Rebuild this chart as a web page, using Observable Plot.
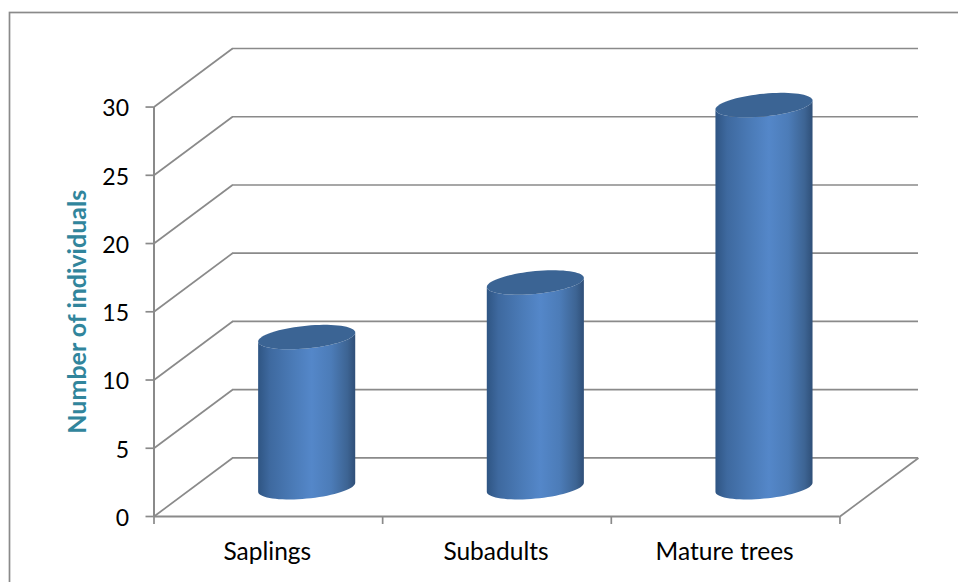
<!DOCTYPE html>
<html>
<head>
<meta charset="utf-8">
<script src="https://cdn.jsdelivr.net/npm/d3@7"></script>
<script src="https://cdn.jsdelivr.net/npm/@observablehq/plot@0.6"></script>
<style>
html,body{margin:0;padding:0;background:#fff;overflow:hidden}
svg{display:block}
</style>
</head>
<body>
<div id="chart"></div>
<script>
const categories = ["Saplings", "Subadults", "Mature trees"];
const values = [11, 15, 28];
const yTicks = [0, 5, 10, 15, 20, 25, 30];
const xTicks = [0, 1, 2, 3];
const yTitle = "Number of individuals";

// depth of the pseudo-3D box, in data units
const depthX = 0.3435, depthY = 4.29;
const radiusX = 0.2123, tiltY = 0.33, radiusY = 0.835;
const gridColor = "#8a8a8a", lineW = 1.7;

const angles = d3.range(0, 73).map(i => i * Math.PI / 36);
const ell = (cx, cy, t) => ({x: cx + radiusX * Math.cos(t), y: cy + tiltY * Math.cos(t) + radiusY * Math.sin(t)});
const cylinders = categories.map((c, i) => ({c, cx: i + 0.496 + depthX / 2, base: depthY / 2, top: depthY / 2 + values[i]}));

// side outline: lower half of the base, then the lower half of the top
const bodyPts = cylinders.flatMap(({c, cx, base, top}) => {
  const low = d3.range(0, 37).map(i => ell(cx, base, Math.PI + i * Math.PI / 36));
  const high = d3.range(0, 37).map(i => ell(cx, top, 2 * Math.PI - i * Math.PI / 36));
  return [...low, ...high].map(p => ({...p, c}));
});
const topPts = cylinders.flatMap(({c, cx, top}) => angles.map(t => ({...ell(cx, top, t), c})));

const defs = () => {
  const s = d3.create("svg:defs");
  const g = s.append("linearGradient").attr("id", "cyl").attr("x1", 0).attr("x2", 1).attr("y1", 0).attr("y2", 0);
  [[0, "#2f5583"], [0.12, "#3e699f"], [0.35, "#4a7ab6"], [0.55, "#5487c9"], [0.75, "#4c7cb8"], [0.92, "#3d6493"], [1, "#2f4f78"]]
    .forEach(([o, c]) => g.append("stop").attr("offset", o).attr("stop-color", c));
  return s.node();
};

const font = "Lato, 'Open Sans', sans-serif";
const chart = Plot.plot({
  width: 958, height: 582,
  marginLeft: 153.5, marginRight: 40, marginTop: 48, marginBottom: 66,
  style: {background: "#fff", fontFamily: font, color: "#000", overflow: "hidden"},
  x: {domain: [0, 3 + depthX], axis: null},
  y: {domain: [0, 30 + depthY], axis: null},
  marks: [
    defs,
    Plot.frame({stroke: gridColor, strokeWidth: 1.7, insetLeft: -144.5, insetTop: -36, insetRight: -60, insetBottom: -200}),
    Plot.ruleY(yTicks, {x1: depthX, x2: 3 + depthX, y: d => d + depthY, stroke: gridColor, strokeWidth: lineW, strokeOpacity: 1}),
    Plot.link(yTicks, {x1: 0, y1: d => d, x2: depthX, y2: d => d + depthY, stroke: gridColor, strokeWidth: lineW, strokeOpacity: 1}),
    Plot.link([0], {x1: 3, y1: 0, x2: 3 + depthX, y2: depthY, stroke: gridColor, strokeWidth: lineW, strokeOpacity: 1}),
    Plot.ruleY([0], {x1: 0, x2: 3, stroke: gridColor, strokeWidth: lineW + 0.3, strokeOpacity: 1}),
    Plot.ruleX([0], {y1: 0, y2: 30, stroke: gridColor, strokeWidth: lineW + 0.3, strokeOpacity: 1}),
    Plot.axisY(yTicks, {anchor: "left", label: null, tickSize: 8, tickFormat: () => "", stroke: gridColor, strokeWidth: lineW, strokeOpacity: 1}),
    Plot.axisX(xTicks, {anchor: "bottom", label: null, tickSize: 8, tickFormat: () => "", stroke: gridColor, strokeWidth: lineW, strokeOpacity: 1}),
    Plot.line(bodyPts, {x: "x", y: "y", z: "c", fill: "url(#cyl)", stroke: "none", curve: "linear"}),
    Plot.line(topPts, {x: "x", y: "y", z: "c", fill: "#3b6494", stroke: "none", curve: "linear"}),
    Plot.text(yTicks, {x: 0, y: d => d, text: d => String(d), dx: -25, dy: 2, textAnchor: "end", fontSize: 23, fill: "#000"}),
    Plot.text(categories, {x: (d, i) => i + 0.5, y: 0, dy: 36, dx: -1, text: d => d, fontSize: 24.5, fill: "#000"}),
    Plot.text([yTitle], {x: 0, y: 15, dx: -76, rotate: -90, fontSize: 25, fontWeight: 700, fill: "#31859c"})
  ]
});
document.getElementById("chart").append(chart);
</script>
</body>
</html>
